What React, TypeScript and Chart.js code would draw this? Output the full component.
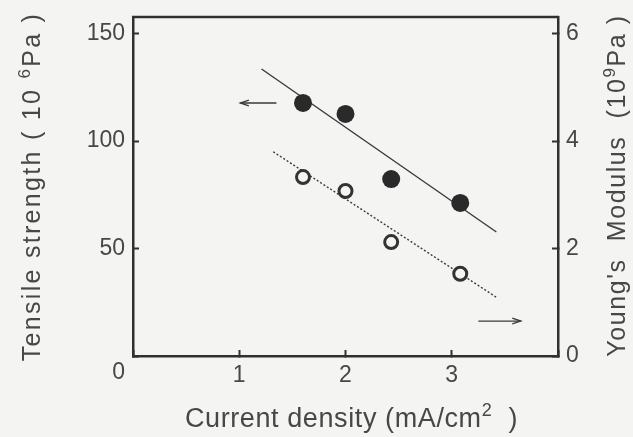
import React, { useEffect, useRef } from 'react';
import { Chart, registerables } from 'chart.js';

Chart.register(...registerables);

// ---- data ----
const currentDensity = [1.6, 2.0, 2.43, 3.08];
const tensileStrength = [117.7, 112.6, 82.3, 71.2]; // 10^6 Pa (left axis)
const youngsModulus = [3.33, 3.07, 2.12, 1.53]; // 10^9 Pa (right axis)

const tensileFitX = [1.21, 3.42];
const tensileFitY = [133.5, 57.7];
const modulusFitX = [1.32, 3.43];
const modulusFitY = [3.8, 1.08];

const xTickLabels = [1, 2, 3];
const leftTickLabels = [0, 50, 100, 150];
const rightTickLabels = [0, 2, 4, 6];

const leftArrowX = [1.35, 1.01];
const leftArrowY = [117.7, 117.7];
const rightArrowX = [3.25, 3.65];
const rightArrowY = [0.65, 0.65];

const BG = '#f4f4f2';
const INK = '#303030';
const TEXT = '#474747';
const FONT = '"Liberation Sans", Arial, Helvetica, sans-serif';

type Run = { t: string; sup?: boolean };

function drawRuns(
  ctx: CanvasRenderingContext2D,
  runs: Run[],
  cx: number,
  cy: number,
  rot: number,
  size: number,
  spacing: number
) {
  ctx.save();
  ctx.translate(cx, cy);
  ctx.rotate(rot);
  ctx.fillStyle = TEXT;
  ctx.textBaseline = 'alphabetic';
  ctx.textAlign = 'left';
  (ctx as any).letterSpacing = spacing + 'px';
  const fonts = runs.map((r) => `${r.sup ? Math.round(size * 0.68) : size}px ${FONT}`);
  const widths = runs.map((r, i) => {
    ctx.font = fonts[i];
    return ctx.measureText(r.t).width;
  });
  const total = widths.reduce((a, b) => a + b, 0);
  let x = -total / 2;
  const base = size * 0.36;
  runs.forEach((r, i) => {
    ctx.font = fonts[i];
    ctx.fillText(r.t, x, r.sup ? base - size * 0.4 : base);
    x += widths[i];
  });
  ctx.restore();
}

const bgPlugin = {
  id: 'bgPlugin',
  beforeDraw(chart: any) {
    const ctx = chart.ctx;
    ctx.save();
    ctx.fillStyle = BG;
    ctx.fillRect(0, 0, chart.width, chart.height);
    ctx.restore();
  },
};

const decorPlugin = {
  id: 'decorPlugin',
  afterDraw(chart: any) {
    const ctx: CanvasRenderingContext2D = chart.ctx;
    const { chartArea, scales } = chart;
    // top frame line
    ctx.save();
    ctx.strokeStyle = INK;
    ctx.lineWidth = 2.5;
    ctx.beginPath();
    ctx.moveTo(chartArea.left - 1, chartArea.top);
    ctx.lineTo(chartArea.right + 1, chartArea.top);
    ctx.stroke();

    // arrows
    const drawArrow = (xs: number[], ys: number[], yScale: any) => {
      const x1 = scales.x.getPixelForValue(xs[0]);
      const x2 = scales.x.getPixelForValue(xs[1]);
      const y1 = yScale.getPixelForValue(ys[0]);
      const y2 = yScale.getPixelForValue(ys[1]);
      ctx.strokeStyle = '#3a3a3a';
      ctx.lineWidth = 1.3;
      ctx.beginPath();
      ctx.moveTo(x1, y1);
      ctx.lineTo(x2, y2);
      ctx.stroke();
      const ang = Math.atan2(y2 - y1, x2 - x1);
      const L = 9;
      const a = 0.32;
      ctx.beginPath();
      ctx.moveTo(x2 - L * Math.cos(ang - a), y2 - L * Math.sin(ang - a));
      ctx.lineTo(x2, y2);
      ctx.lineTo(x2 - L * Math.cos(ang + a), y2 - L * Math.sin(ang + a));
      ctx.stroke();
    };
    drawArrow(leftArrowX, leftArrowY, scales.y);
    drawArrow(rightArrowX, rightArrowY, scales.y2);
    ctx.restore();

    // axis titles
    const midY = (chartArea.top + chartArea.bottom) / 2;
    const midX = (chartArea.left + chartArea.right) / 2;
    drawRuns(
      ctx,
      [{ t: 'Current density (mA/cm' }, { t: '2', sup: true }, { t: '  )' }],
      midX + 6,
      chartArea.bottom + 61,
      0,
      27,
      0.6
    );
    drawRuns(
      ctx,
      [{ t: 'Tensile strength ( 10 ' }, { t: '6', sup: true }, { t: 'Pa )' }],
      31,
      midY,
      -Math.PI / 2,
      25,
      2.3
    );
    drawRuns(
      ctx,
      [{ t: "Young's  Modulus  (10" }, { t: '9', sup: true }, { t: 'Pa )' }],
      616,
      midY - 1,
      -Math.PI / 2,
      25,
      1.6
    );
  },
};

export default function App() {
  const ref = useRef<HTMLCanvasElement | null>(null);

  useEffect(() => {
    if (!ref.current) return;
    const tickFont = { family: FONT, size: 23 };
    const chart = new Chart(ref.current, {
      type: 'scatter',
      data: {
        datasets: [
          {
            label: 'Tensile strength',
            data: currentDensity.map((x, i) => ({ x, y: tensileStrength[i] })),
            yAxisID: 'y',
            pointRadius: 9,
            pointHoverRadius: 9,
            backgroundColor: '#2a2a2a',
            borderColor: '#2a2a2a',
            borderWidth: 0,
            showLine: false,
          },
          {
            label: "Young's modulus",
            data: currentDensity.map((x, i) => ({ x, y: youngsModulus[i] })),
            yAxisID: 'y2',
            pointRadius: 6.5,
            pointHoverRadius: 6.5,
            backgroundColor: BG,
            borderColor: '#333',
            borderWidth: 3,
            showLine: false,
          },
          {
            label: 'Tensile fit',
            data: tensileFitX.map((x, i) => ({ x, y: tensileFitY[i] })),
            yAxisID: 'y',
            showLine: true,
            pointRadius: 0,
            borderColor: '#3a3a3a',
            borderWidth: 1.4,
          },
          {
            label: 'Modulus fit',
            data: modulusFitX.map((x, i) => ({ x, y: modulusFitY[i] })),
            yAxisID: 'y2',
            showLine: true,
            pointRadius: 0,
            borderColor: '#3a3a3a',
            borderWidth: 1.4,
            borderDash: [2, 2],
          },
        ],
      },
      options: {
        responsive: false,
        animation: false,
        events: [],
        layout: { padding: { top: 17, left: 0, right: 0, bottom: 0 } },
        plugins: {
          legend: { display: false },
          tooltip: { enabled: false },
          title: { display: false },
        },
        scales: {
          x: {
            type: 'linear',
            position: 'bottom',
            min: 0,
            max: 4,
            afterFit: (s: any) => {
              s.height = 81;
              s.paddingLeft = 0;
              s.paddingRight = 0;
            },
            ticks: {
              stepSize: 1,
              includeBounds: false,
              padding: 12,
              color: TEXT,
              font: { ...tickFont, lineHeight: 1.2 },
              callback: (v: any) => (xTickLabels.includes(Number(v)) ? String(v) : ''),
            },
            grid: {
              drawOnChartArea: false,
              drawTicks: true,
              tickLength: -6,
              tickWidth: 2,
              tickColor: INK,
            },
            border: { display: true, color: INK, width: 2.5 },
          },
          y: {
            type: 'linear',
            position: 'left',
            min: 0,
            max: 157.7,
            afterFit: (s: any) => {
              s.width = 133;
              s.paddingTop = 0;
              s.paddingBottom = 0;
            },
            ticks: {
              stepSize: 50,
              includeBounds: false,
              padding: 14,
              color: TEXT,
              font: { ...tickFont, lineHeight: 1.45 },
              callback: (v: any) => {
                const n = Number(v);
                if (n === 0) return ['', '0'];
                return leftTickLabels.includes(n) ? String(n) : '';
              },
            },
            grid: {
              drawOnChartArea: false,
              drawTicks: true,
              tickLength: -6,
              tickWidth: 2,
              tickColor: INK,
            },
            border: { display: true, color: INK, width: 2.5 },
          },
          y2: {
            type: 'linear',
            position: 'right',
            min: 0,
            max: 6.308,
            afterFit: (s: any) => {
              s.width = 75;
              s.paddingTop = 0;
              s.paddingBottom = 0;
            },
            ticks: {
              stepSize: 2,
              includeBounds: false,
              padding: 14,
              color: TEXT,
              font: tickFont,
              callback: (v: any) => (rightTickLabels.includes(Number(v)) ? String(v) : ''),
            },
            grid: {
              drawOnChartArea: false,
              drawTicks: true,
              tickLength: -6,
              tickWidth: 2,
              tickColor: INK,
            },
            border: { display: true, color: INK, width: 2.5 },
          },
        },
      } as any,
      plugins: [bgPlugin, decorPlugin],
    });
    return () => chart.destroy();
  }, []);

  return (
    <div
      style={{
        position: 'absolute',
        left: 0,
        top: 0,
        width: 633,
        height: 437,
        background: BG,
        overflow: 'hidden',
      }}
    >
      <canvas ref={ref} width={633} height={437} style={{ display: 'block' }} />
    </div>
  );
}
